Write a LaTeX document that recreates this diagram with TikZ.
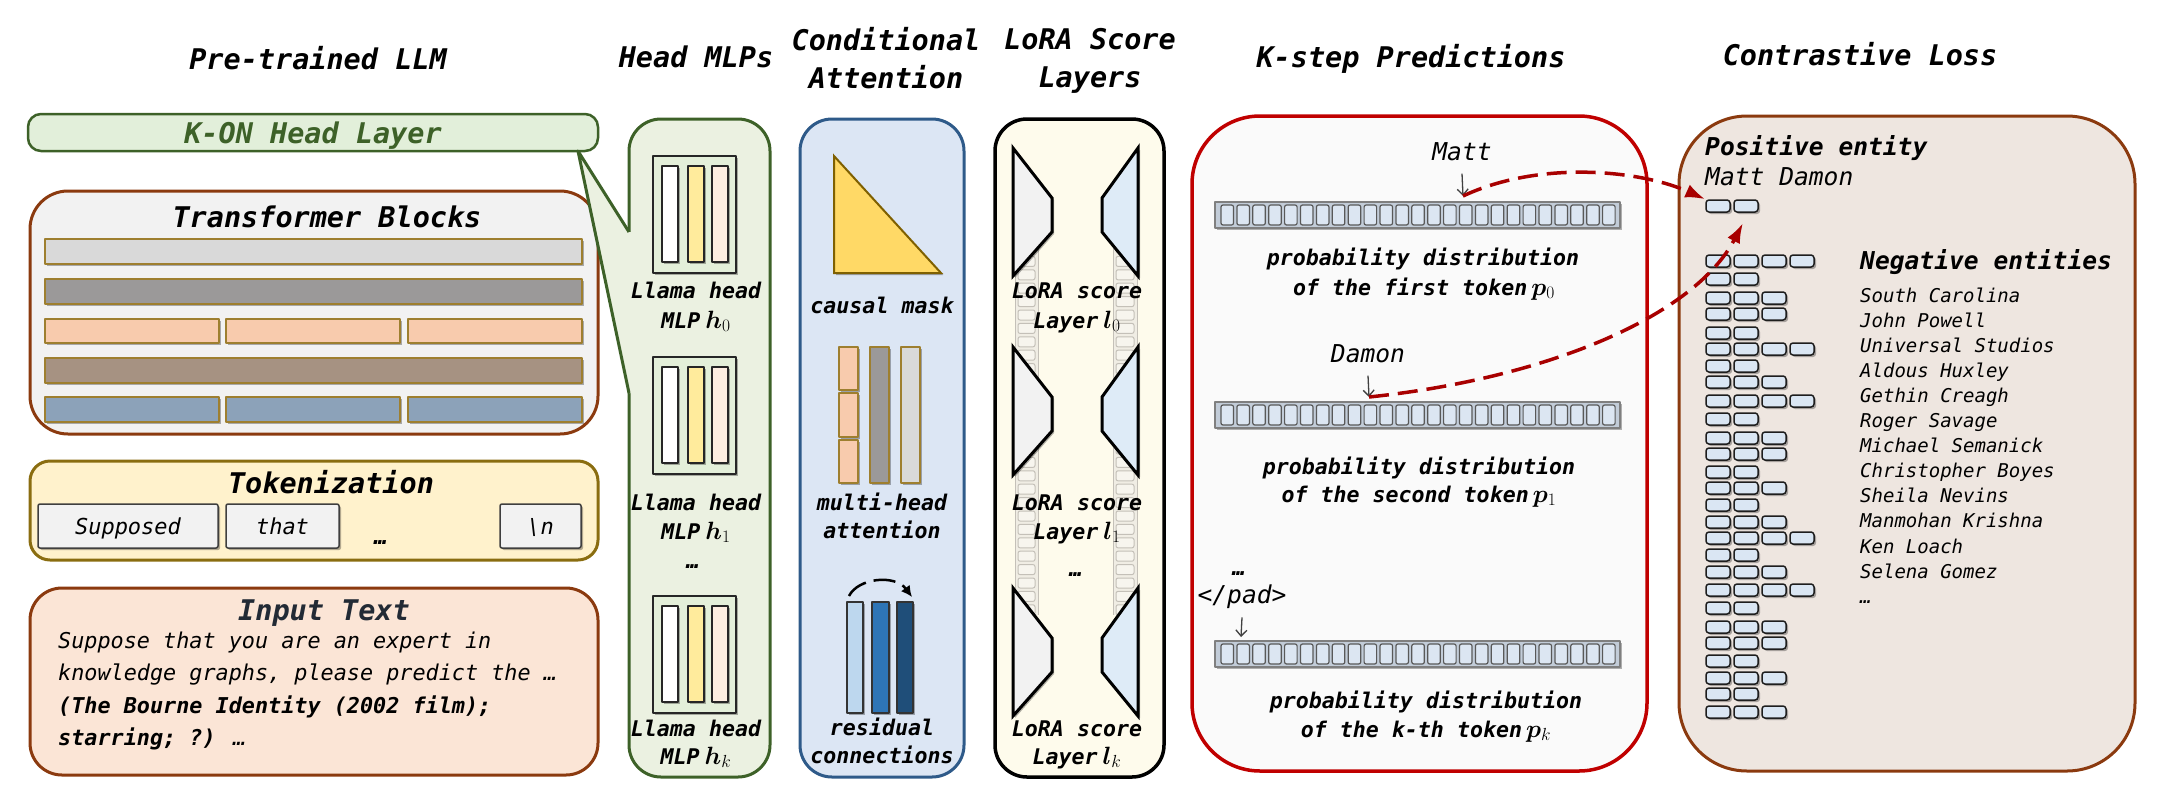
\documentclass[tikz,border=0pt]{standalone}
\usepackage{fix-cm}
\usepackage{fontspec}
\usepackage{bm}
\setmainfont{DejaVu Sans Mono}[ItalicFont={DejaVu Sans Mono Oblique},BoldFont={DejaVu Sans Mono Bold},BoldItalicFont={DejaVu Sans Mono Bold Oblique}]
\usetikzlibrary{shadows,arrows.meta}
\definecolor{konF}{HTML}{E2EFDA}\definecolor{konB}{HTML}{3D6128}
\definecolor{tbF}{HTML}{F2F2F2}\definecolor{brB}{HTML}{8B3A0F}
\definecolor{barA}{HTML}{D9D9D9}\definecolor{barB}{HTML}{9B9999}\definecolor{barC}{HTML}{F8CBAD}
\definecolor{barD}{HTML}{A69282}\definecolor{barE}{HTML}{8CA2B9}\definecolor{barBd}{HTML}{9E7F2F}
\definecolor{tokF}{HTML}{FFF2CC}\definecolor{tokB}{HTML}{8A6D10}
\definecolor{tkF}{HTML}{F2F2F2}\definecolor{tkB}{HTML}{3F3F3F}
\definecolor{inF}{HTML}{FBE5D6}\definecolor{inT}{HTML}{222A35}
\definecolor{hmF}{HTML}{EBF1E1}\definecolor{icF}{HTML}{E3EFD9}\definecolor{icB}{HTML}{262626}
\definecolor{icY}{HTML}{FFEB9C}\definecolor{icP}{HTML}{FDEEE1}
\definecolor{caF}{HTML}{DCE6F4}\definecolor{caB}{HTML}{2E5A89}
\definecolor{triF}{HTML}{FFD966}\definecolor{triB}{HTML}{7F6000}
\definecolor{rsA}{HTML}{BDD7EE}\definecolor{rsB}{HTML}{2E75B6}\definecolor{rsC}{HTML}{1F4E79}
\definecolor{loF}{HTML}{FEFBEC}\definecolor{loL}{HTML}{F2F2F2}\definecolor{loR}{HTML}{DEEBF7}
\definecolor{stF}{HTML}{EDEAE2}\definecolor{stB}{HTML}{C4C0B8}\definecolor{stC}{HTML}{F7F5EE}
\definecolor{ksF}{HTML}{FAFAFA}\definecolor{ksB}{HTML}{C00000}
\definecolor{pbF}{HTML}{C2CCD8}\definecolor{pbB}{HTML}{7F7F7F}\definecolor{pcF}{HTML}{DCE6F2}\definecolor{pcB}{HTML}{595959}
\definecolor{clF}{HTML}{EEE6E0}\definecolor{ceF}{HTML}{DAE6F3}\definecolor{ceB}{HTML}{1E1E1E}
\definecolor{redA}{HTML}{A80000}
\newcommand\fTitle{\fontsize{28.5}{34}\selectfont\bfseries\itshape}
\newcommand\fLbl{\fontsize{21.6}{26}\selectfont\bfseries\itshape}
\newcommand\fBody{\fontsize{21.8}{26}\selectfont\itshape}
\newcommand\fTok{\fontsize{22}{26}\selectfont\itshape}
\newcommand\fEnt{\fontsize{24.6}{30}\selectfont\itshape}
\newcommand\fNeg{\fontsize{19}{24}\selectfont\itshape}
\newcommand\mth[1]{{\fontsize{25}{30}\selectfont$#1$}}
\tikzset{
  ttl/.style={anchor=base,inner sep=0pt,font=\fTitle},
  lbl/.style={anchor=base,inner sep=0pt,font=\fLbl},
  shd/.style={drop shadow={shadow xshift=2pt,shadow yshift=-2pt,opacity=0.3,fill=black}},
  panel/.style={line width=3pt},
  barst/.style={shd,draw=barBd,line width=1.8pt},
  tokbox/.style={shd,draw=tkB,fill=tkF,line width=1.5pt,rounded corners=2pt,minimum height=44pt,inner sep=0pt,text height=16pt,text depth=0pt,font=\fTok},
  icst/.style={draw=icB,line width=1.5pt},
  lorash/.style={shd,draw=black,line width=3pt,line join=miter},
  pbst/.style={shd,draw=pbB,fill=pbF,line width=1.5pt},
  pcst/.style={draw=pcB,fill=pcF,line width=1.2pt,rounded corners=2pt},
  cellst/.style={shd,draw=ceB,fill=ceF,line width=1.5pt,rounded corners=3pt},
  downar/.style={-{Straight Barb[length=6pt,width=11pt]},line width=1.3pt,draw=black!75},
  redar/.style={draw=redA,line width=3.5pt,dash pattern=on 20pt off 9pt,-{Latex[length=20pt,width=14pt]}},
}
\begin{document}
\begin{tikzpicture}[x=1pt,y=-1pt,line join=round]
\useasboundingbox (0,0) rectangle (2169,801);

% ---------- column titles
\node[ttl] (t1) at (318,69) {Pre-trained LLM};
\node[ttl] (t2) at (696,67) {Head MLPs};
\node[ttl] (t3a) at (886,50) {Conditional};
\node[ttl] (t3b) at (886,88) {Attention};
\node[ttl] (t4a) at (1090,49) {LoRA Score};
\node[ttl] (t4b) at (1090,87) {Layers};
\node[ttl] (t5) at (1411,67) {K-step Predictions};
\node[ttl] (t6) at (1860,65) {Contrastive Loss};

% ---------- column 1
\draw[line width=2.5pt,draw=konB,fill=konF,rounded corners=13pt] (28,114) rectangle (598,151);
\node[ttl,text=konB] (kon) at (313,143) {K-ON Head Layer};

\draw[panel,draw=brB,fill=tbF,rounded corners=38pt] (30,191) rectangle (598,434);
\node[ttl] (tbt) at (327,227) {Transformer Blocks};
\foreach \y/\c in {239/barA,279/barB,358/barD} \draw[barst,fill=\c] (45,\y) rectangle (582,\y+25);
\foreach \x/\xx in {45/219,226/400,408/582} {
  \draw[barst,fill=barC] (\x,319) rectangle (\xx,343);
  \draw[barst,fill=barE] (\x,397) rectangle (\xx,422);
}

\draw[panel,draw=tokB,fill=tokF,rounded corners=20pt] (30,461) rectangle (598,560);
\node[ttl] (tokt) at (331,493) {Tokenization};
\node[tokbox,minimum width=180pt] (tk1) at (128,526) {Supposed};
\node[tokbox,minimum width=113pt] (tk2) at (282.5,526) {that};
\node[anchor=base,inner sep=0pt,font=\fTok\bfseries] (tkd) at (381,544) {…};
\node[tokbox,minimum width=81pt] (tk3) at (540.5,526) {\textbackslash n};

\draw[panel,draw=brB,fill=inF,rounded corners=32pt] (30,588) rectangle (598,775);
\node[ttl,text=inT] (intt) at (324,620) {Input Text};
\node[anchor=base west,inner sep=0pt,font=\fBody] (in1) at (58,648) {Suppose that you are an expert in};
\node[anchor=base west,inner sep=0pt,font=\fBody] (in2) at (58,680) {knowledge graphs, please predict the …};
\node[anchor=base west,inner sep=0pt,font=\fBody\bfseries] (in3) at (58,713) {(The Bourne Identity (2002 film);};
\node[anchor=base west,inner sep=0pt,font=\fBody] (in4) at (58,745) {\textbf{starring; ?)} …};

% ---------- column 2: head MLPs
\draw[panel,draw=konB,fill=hmF,rounded corners=32pt] (629,119) rectangle (770,777);
\fill[hmF] (578,151) -- (629,232) -- (632,232) -- (632,393) -- (629,393) -- cycle;
\draw[line width=3pt,draw=konB] (629,232) -- (578,151) -- (629,393);
\foreach \t in {156,357,596} {
  \draw[shd,icst,fill=icF] (653,\t) rectangle (736,\t+117);
  \draw[shd,icst,fill=white] (662,\t+10) rectangle (678,\t+106);
  \draw[shd,icst,fill=icY] (688,\t+10) rectangle (704,\t+106);
  \draw[shd,icst,fill=icP] (712,\t+10) rectangle (728,\t+106);
}
\node[lbl] (h0a) at (696,298) {Llama head};
\node[lbl] (h0b) at (696,328) {MLP\hspace{5pt}\mth{\bm{h}_0}};
\node[lbl] (h1a) at (696,510) {Llama head};
\node[lbl] (h1b) at (696,539) {MLP\hspace{5pt}\mth{\bm{h}_1}};
\node[lbl] (hdots) at (693,568) {…};
\node[lbl] (hka) at (696,736) {Llama head};
\node[lbl] (hkb) at (696,764) {MLP\hspace{5pt}\mth{\bm{h}_k}};

% ---------- column 3: conditional attention
\draw[panel,draw=caB,fill=caF,rounded corners=32pt] (800,119) rectangle (964,777);
\draw[shd,fill=triF,draw=triB,line width=2pt,line join=miter] (834,156) -- (834,273) -- (941,273) -- cycle;
\node[lbl] (cm) at (882,313) {causal mask};
\foreach \a/\b in {347/390,393/437,440/483} \draw[shd,draw=barBd,line width=1.6pt,fill=barC] (839,\a) rectangle (858,\b);
\draw[shd,draw=barBd,line width=1.6pt,fill=barB] (870,347) rectangle (889,483);
\draw[shd,draw=barBd,line width=1.6pt,fill=barA] (901,347) rectangle (920,483);
\node[lbl] (mha) at (882,510) {multi-head};
\node[lbl] (mhb) at (882,538) {attention};
\draw[shd,draw=black!80,line width=1.6pt,fill=rsA] (847,602) rectangle (863,713);
\draw[shd,draw=black!80,line width=1.6pt,fill=rsB] (872,602) rectangle (889,713);
\draw[shd,draw=black!80,line width=1.6pt,fill=rsC] (897,602) rectangle (913,713);
\coordinate (ra) at (849,596);
\coordinate (rb) at (912,597);
\draw[line width=2.5pt,dash pattern=on 22pt off 8pt,-{Latex[length=11pt,width=11pt]}] (ra) .. controls (858,578) and (895,574) .. (rb);
\node[lbl] (rca) at (882,735) {residual};
\node[lbl] (rcb) at (882,763) {connections};

% ---------- column 4: LoRA
\draw[line width=3.5pt,draw=black,fill=loF,rounded corners=32pt] (995,119) rectangle (1164,777);
\foreach \xa/\xb in {1015/1038,1113/1137} {
  \fill[stF,opacity=0.8] (\xa,240) rectangle (\xb,615);
  \draw[stB,line width=1pt] (\xa,240) -- (\xa,615) (\xb,240) -- (\xb,615);
  \foreach \i in {0,...,27} \draw[stB,fill=stC,line width=1pt,rounded corners=2pt] (\xa+3,{243+13.4*\i}) rectangle (\xb-3,{253+13.4*\i});
}
\foreach \t in {148,347,588} {
  \draw[lorash,fill=loL] (1013,\t) -- (1052,\t+50) -- (1052,\t+84) -- (1013,\t+128) -- cycle;
  \draw[lorash,fill=loR] (1138,\t) -- (1102,\t+50) -- (1102,\t+84) -- (1138,\t+128) -- cycle;
}
\node[lbl] (l0a) at (1077,298) {LoRA score};
\node[lbl] (l0b) at (1077,328) {Layer\hspace{5pt}\mth{\bm{l}_0}};
\node[lbl] (l1a) at (1077,510) {LoRA score};
\node[lbl] (l1b) at (1077,539) {Layer\hspace{5pt}\mth{\bm{l}_1}};
\node[lbl] (ldots) at (1076,576) {…};
\node[lbl] (lka) at (1077,736) {LoRA score};
\node[lbl] (lkb) at (1077,764) {Layer\hspace{5pt}\mth{\bm{l}_k}};

% ---------- column 5: K-step predictions
\draw[line width=3.5pt,draw=ksB,fill=ksF,rounded corners=68pt] (1192,116) rectangle (1647,771);
\foreach \by in {202,402,641} {
  \draw[pbst] (1215,\by) rectangle (1620,\by+26);
  \foreach \i in {0,...,24} \draw[pcst] ({1221+15.9*\i},\by+3) rectangle ({1233.5+15.9*\i},\by+23);
}
\node[anchor=base,inner sep=0pt,font=\fEnt] (matt) at (1462,160) {Matt};
\coordinate (m1) at (1463,196);
\draw[downar] ([yshift=-13pt]matt.south) -- (m1);
\node[lbl] (p0a) at (1423,265) {probability distribution};
\node[lbl] (p0b) at (1424,295) {of the first token\hspace{4pt}\mth{\bm{p}_0}};
\node[anchor=base,inner sep=0pt,font=\fEnt] (damon) at (1368,362) {Damon};
\coordinate (d1) at (1369,397);
\draw[downar] ([yshift=-13pt]damon.south) -- (d1);
\node[lbl] (p1a) at (1419,474) {probability distribution};
\node[lbl] (p1b) at (1419,502) {of the second token\hspace{4pt}\mth{\bm{p}_1}};
\node[lbl] (kdots) at (1239,575) {…};
\node[anchor=base,inner sep=0pt,font=\fEnt] (pad) at (1242,603) {</pad>};
\coordinate (pd1) at (1241,637);
\draw[downar] ([yshift=-9pt]pad.south) -- (pd1);
\node[lbl] (pka) at (1426,708) {probability distribution};
\node[lbl] (pkb) at (1426,737) {of the k-th token\hspace{4pt}\mth{\bm{p}_k}};

% ---------- column 6: contrastive loss
\draw[panel,draw=brB,fill=clF,rounded corners=68pt] (1679,116) rectangle (2135,771);
\node[anchor=base west,inner sep=0pt,font=\fEnt\bfseries] (pos) at (1705,155) {Positive entity};
\node[anchor=base west,inner sep=0pt,font=\fEnt] (posn) at (1705,185) {Matt Damon};
\node[cellst,minimum width=24pt,minimum height=12pt,inner sep=0pt] (pc1) at (1718,206) {};
\node[cellst,minimum width=24pt,minimum height=12pt,inner sep=0pt] (pc2) at (1746,206) {};
\coordinate (pe2) at (1743,223);
\foreach \yc/\n in {261/4,279/2,298/3,314/3,333/2,349/4,366/2,382/3,401/4,419/2,438/3,454/3,472/2,488/3,505/2,522/3,538/4,555/2,572/3,590/4,608/2,627/3,643/3,661/2,678/3,694/2,712/3} {
  \foreach \k in {1,...,\n} \draw[cellst] ({1706+28*(\k-1)},\yc-6) rectangle ({1730+28*(\k-1)},\yc+6);
}
\node[anchor=base west,inner sep=0pt,font=\fEnt\bfseries] (neg) at (1860,269) {Negative entities};
\foreach \s [count=\i from 0] in {South Carolina,John Powell,Universal Studios,Aldous Huxley,Gethin Creagh,Roger Savage,Michael Semanick,Christopher Boyes,Sheila Nevins,Manmohan Krishna,Ken Loach,Selena Gomez,…}
  \node[anchor=base west,inner sep=0pt,font=\fNeg] (neg\i) at (1860,{302+25.1*\i}) {\s};

% ---------- red dashed arrows
\draw[redar] (m1) .. controls (1540,160) and (1640,170) .. (pc1.north west);
\draw[redar] (d1) .. controls (1550,378) and (1695,315) .. (pe2);
\end{tikzpicture}
\end{document}
